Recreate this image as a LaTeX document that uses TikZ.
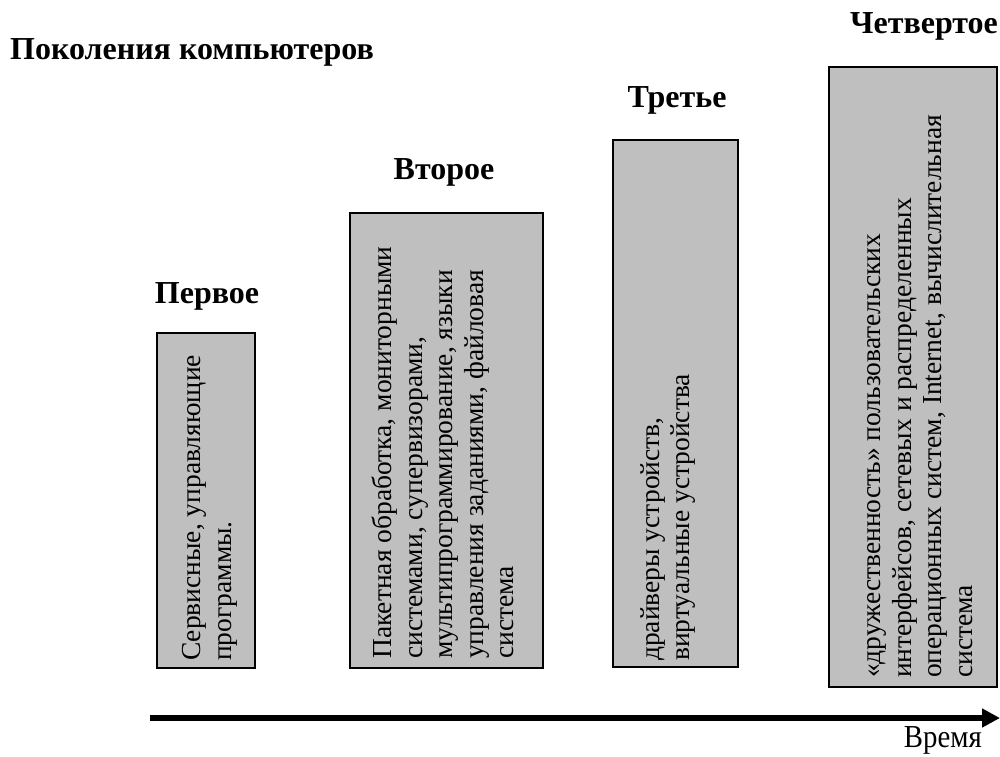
\documentclass[tikz,border=0pt]{standalone}
\usepackage{fontspec}
\setmainfont{Liberation Serif}
\usetikzlibrary{arrows.meta}
\begin{document}
\begin{tikzpicture}[x=1pt,y=-1pt,
  genbox/.style={draw=black,line width=1.6pt,fill=black!25},
  gentitle/.style={font=\fontsize{32}{36}\selectfont\bfseries,inner sep=0pt},
  gentext/.style={rotate=90,anchor=west,align=left,inner sep=0pt,font=\fontsize{27.5}{30.5}\selectfont}]
\useasboundingbox (0,0) rectangle (1000,756);
\node[gentitle,anchor=west] (main) at (10,52) {Поколения компьютеров};
% boxes
\draw[genbox] (157,333) rectangle (255,668);
\coordinate (b1) at (210,661);
\draw[genbox] (350,213) rectangle (543,668);
\coordinate (b2) at (443,659);
\draw[genbox] (613,140) rectangle (738,667);
\coordinate (b3) at (668,661);
\draw[genbox] (829,67) rectangle (997,687);
\coordinate (b4) at (920,678);
% titles
\node[gentitle] (t1) at (207,296) {Первое};
\node[gentitle] (t2) at (444,172) {Второе};
\node[gentitle] (t3) at (677,100) {Третье};
\node[gentitle] (t4) at (924,26) {Четвертое};
% texts
\node[gentext] (x1) at (b1) {Сервисные, управляющие\\программы.};
\node[gentext] (x2) at (b2) {Пакетная обработка, мониторными\\системами, супервизорами,\\мультипрограммирование, языки\\управления заданиями, файловая\\система};
\node[gentext] (x3) at (b3) {драйверы устройств,\\виртуальные устройства};
\node[gentext] (x4) at (b4) {«дружественность» пользовательских\\интерфейсов, сетевых и распределенных\\операционных систем, Internet, вычислительная\\система};
% time axis
\coordinate (a0) at (150,718);
\coordinate (a1) at (1000,718);
\draw[line width=6pt,-{Triangle[length=18pt,width=18pt]}] (a0) -- (a1);
\node[anchor=base east,inner sep=0pt,xscale=0.9,font=\fontsize{32}{36}\selectfont] (tm) at (982,747) {Время};
\end{tikzpicture}
\end{document}
